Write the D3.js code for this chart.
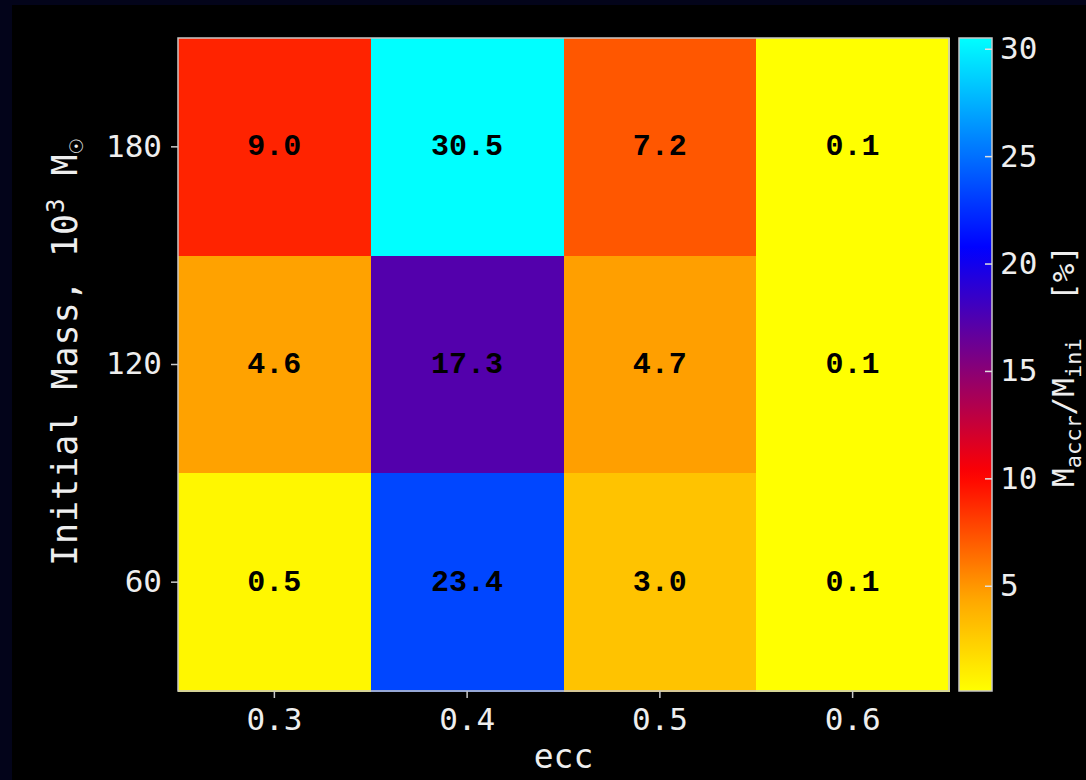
<!DOCTYPE html>
<html>
<head>
<meta charset="utf-8" />
<title>Accreted mass fraction</title>
<script src="https://cdn.jsdelivr.net/npm/d3@7"></script>
<style>
body { margin: 0; background: #03041a; }
text { font-family: "DejaVu Sans Mono", monospace; }
</style>
</head>
<body>
<div id="chart"></div>
<script>
// data
const eccs = ["0.3", "0.4", "0.5", "0.6"];
const masses = ["180", "120", "60"];
const vals180 = [9.0, 30.5, 7.2, 0.1];
const vals120 = [4.6, 17.3, 4.7, 0.1];
const vals60 = [0.5, 23.4, 3.0, 0.1];
const cbTicks = [5, 10, 15, 20, 25, 30];
const cbDomain = [0.1, 30.5];

const width = 1086, height = 780;
const plot = {left: 178, right: 949, top: 38, bottom: 691};
const cb = {left: 959, right: 992};

const rows = [vals180, vals120, vals60];
const cells = [];
masses.forEach(function(m, i){
	eccs.forEach(function(e, j){
		cells.push({mass: m, ecc: e, v: rows[i][j]});
	});
});

const svg = d3.select("#chart").append("svg")
	.attr("width", width)
	.attr("height", height);

svg.append("rect").attr("width", width).attr("height", height).attr("fill", "#03041a");
svg.append("rect").attr("x", 12).attr("y", 5).attr("width", width - 12).attr("height", height - 5).attr("fill", "#000");

const x = d3.scaleBand().domain(eccs).range([plot.left, plot.right]);
const y = d3.scaleBand().domain(masses).range([plot.top, plot.bottom]);

// yellow -> orange -> red -> blue -> cyan
const color = d3.scaleLinear()
	.domain([0.1, 4.6, 10.2, 20.7, 30.5])
	.range(["#ffff00", "#ffa200", "#ff0000", "#0000ff", "#00ffff"])
	.clamp(true);

svg.append("g").selectAll("rect")
	.data(cells)
	.enter().append("rect")
		.attr("x", d => x(d.ecc))
		.attr("y", d => y(d.mass))
		.attr("width", x.bandwidth() + 0.6)
		.attr("height", y.bandwidth() + 0.6)
		.attr("shape-rendering", "crispEdges")
		.attr("fill", d => color(d.v));

svg.append("g").selectAll("text")
	.data(cells)
	.enter().append("text")
		.attr("x", d => x(d.ecc) + x.bandwidth() / 2)
		.attr("y", d => y(d.mass) + y.bandwidth() / 2)
		.attr("dy", "0.28em")
		.attr("text-anchor", "middle")
		.style("font-family", "'Liberation Mono', monospace")
		.style("font-weight", "bold")
		.style("font-size", "30px")
		.attr("fill", "#000")
		.text(d => d.v.toFixed(1));

svg.append("rect")
	.attr("x", plot.left).attr("y", plot.top)
	.attr("width", plot.right - plot.left).attr("height", plot.bottom - plot.top)
	.attr("fill", "none").attr("stroke", "#c8c8c8").attr("stroke-width", 1.5);

// axes
const xAxis = svg.append("g")
	.attr("transform", "translate(0," + plot.bottom + ")")
	.call(d3.axisBottom(x).tickSize(7).tickPadding(10));
const yAxis = svg.append("g")
	.attr("transform", "translate(" + plot.left + ",0)")
	.call(d3.axisLeft(y).tickSize(7).tickPadding(9));
[xAxis, yAxis].forEach(function(a){
	a.select(".domain").remove();
	a.selectAll(".tick line").attr("stroke", "#c8c8c8").attr("stroke-width", 1.5);
	a.selectAll(".tick text")
		.attr("fill", "#eeeeee")
		.style("font-family", "'DejaVu Sans Mono', monospace")
		.style("font-size", "31px");
});

svg.append("text")
	.attr("x", (plot.left + plot.right) / 2 - 0)
	.attr("y", 768)
	.attr("text-anchor", "middle")
	.attr("fill", "#eeeeee")
	.style("font-size", "33px")
	.text("ecc");

const yl = svg.append("text")
	.attr("transform", "translate(77,352) rotate(-90)")
	.attr("text-anchor", "middle")
	.attr("fill", "#eeeeee")
	.style("font-size", "35px")
	.style("letter-spacing", "1px");
yl.append("tspan").text("Initial Mass, 10");
yl.append("tspan").attr("dy", -13).style("font-size", "24px").text("3");
yl.append("tspan").attr("dy", 13).text(" M");
yl.append("tspan").attr("dy", 6).style("font-size", "24px").text("\u2609");

// colorbar
const cbScale = d3.scaleLinear().domain(cbDomain).range([plot.bottom, plot.top]);
const grad = svg.append("defs").append("linearGradient")
	.attr("id", "cbgrad")
	.attr("x1", 0).attr("y1", 1).attr("x2", 0).attr("y2", 0);
grad.selectAll("stop")
	.data(d3.range(0, 1.0001, 0.02))
	.enter().append("stop")
		.attr("offset", t => t)
		.attr("stop-color", t => color(cbDomain[0] + t * (cbDomain[1] - cbDomain[0])));

svg.append("rect")
	.attr("x", cb.left).attr("y", plot.top)
	.attr("width", cb.right - cb.left).attr("height", plot.bottom - plot.top)
	.attr("fill", "url(#cbgrad)")
	.attr("stroke", "#c8c8c8").attr("stroke-width", 1.5);

const cbAxis = svg.append("g")
	.attr("transform", "translate(" + cb.right + ",0)")
	.call(d3.axisRight(cbScale).tickValues(cbTicks).tickSize(0).tickPadding(8));
cbAxis.select(".domain").remove();
cbAxis.selectAll(".tick text")
	.attr("fill", "#eeeeee")
	.style("font-family", "'DejaVu Sans Mono', monospace")
	.style("font-size", "31px");
cbAxis.selectAll(".tick").append("line")
	.attr("x1", -7).attr("x2", 0)
	.attr("stroke", "#e0e0e0").attr("stroke-width", 1.5);

const cl = svg.append("text")
	.attr("transform", "translate(1074,366) rotate(-90)")
	.attr("text-anchor", "middle")
	.attr("fill", "#eeeeee")
	.style("font-size", "31px");
cl.append("tspan").text("M");
cl.append("tspan").attr("dy", 7).style("font-size", "22px").text("accr");
cl.append("tspan").attr("dy", -7).text("/M");
cl.append("tspan").attr("dy", 7).style("font-size", "22px").text("ini");
cl.append("tspan").attr("dy", -7).attr("xml:space", "preserve").text("  [%]");
</script>
</body>
</html>
